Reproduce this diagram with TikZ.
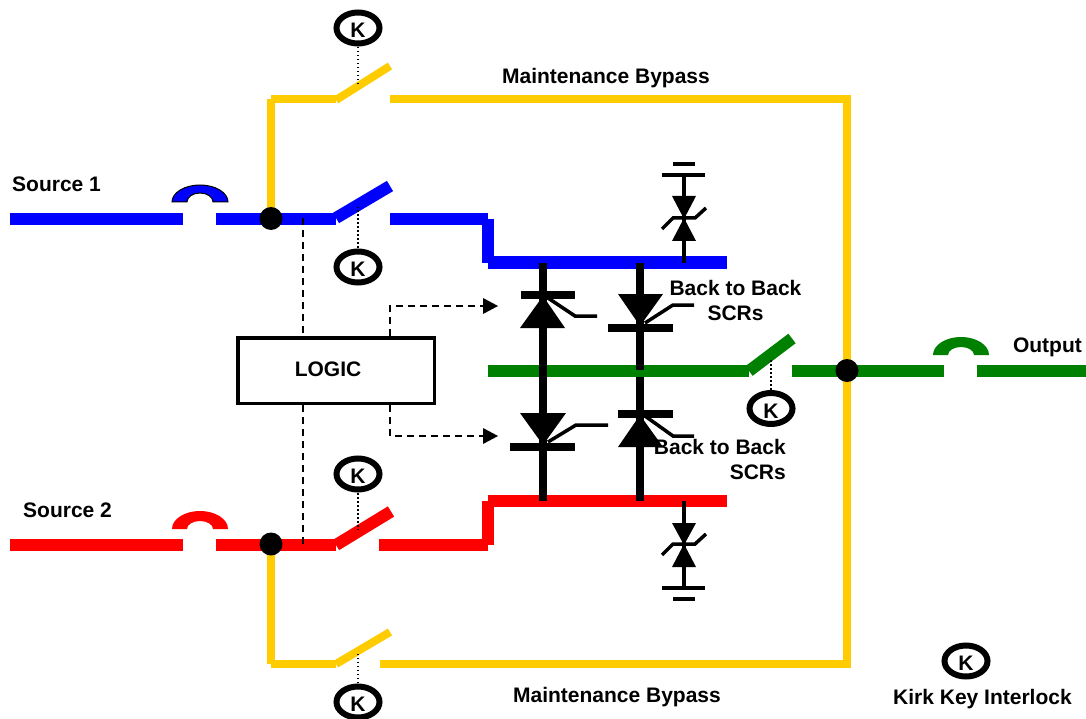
\documentclass[tikz,border=0pt]{standalone}
\usepackage{fontspec}
\setmainfont{Liberation Sans}
\definecolor{cblue}{RGB}{0,0,255}
\definecolor{cred}{RGB}{255,0,0}
\definecolor{cgreen}{RGB}{0,128,0}
\definecolor{cyel}{RGB}{255,204,0}
\usetikzlibrary{shapes.geometric}
\tikzset{
 bluew/.style={draw=cblue,line width=12pt,line cap=butt},
 redw/.style={draw=cred,line width=12pt,line cap=butt},
 greenw/.style={draw=cgreen,line width=12pt,line cap=butt},
 yelw/.style={draw=cyel,line width=8pt,line cap=butt},
 lab/.style={font=\fontsize{21}{25}\selectfont\bfseries,inner sep=0pt,align=center},
 keyk/.style={draw=black,line width=6pt,ellipse,minimum width=43pt,minimum height=31pt,inner sep=0pt,fill=white,font=\fontsize{21}{21}\selectfont\bfseries},
 dott/.style={draw=black,line width=1.5pt,dash pattern=on 1.5pt off 2.5pt},
 dashl/.style={draw=black,line width=1.8pt,dash pattern=on 7pt off 5pt},
 bar/.style={draw=black,line width=7.5pt},
 stem/.style={draw=black,line width=8pt},
 thin/.style={draw=black,line width=3.5pt},
 junc/.style={circle,fill=black,minimum size=23pt,inner sep=0pt},
 tri/.style={fill=black},
 breaker/.style={line width=1pt},
}
\newcommand{\KK}{\raisebox{-2.5pt}[\height][0pt]{K}}
\begin{document}
\begin{tikzpicture}[x=1pt,y=-1pt]
\useasboundingbox (0,0) rectangle (1086,719);
% yellow
\draw[yelw] (271,219) -- (271,99);
\draw[yelw] (271,99) -- (336,99);
\draw[yelw] (336,100) -- (390,66);
\draw[yelw] (390,99) -- (851,99);
\draw[yelw] (847,99) -- (847,668);
\draw[yelw] (851,664) -- (380,664);
\draw[yelw] (336,664) -- (390,632);
\draw[yelw] (271,545) -- (271,664);
\draw[yelw] (271,664) -- (336,664);
% blue
\draw[bluew] (10,219) -- (183,219);
\draw[bluew] (216,219) -- (336,219);
\draw[bluew] (336,218) -- (390,186);
\draw[bluew] (390,219) -- (488,219);
\draw[bluew] (488,219) -- (488,262.5);
\draw[bluew] (488,262.5) -- (727,262.5);
% red
\draw[redw] (10,545) -- (183,545);
\draw[redw] (216,545) -- (336,545);
\draw[redw] (336,545) -- (391,511.5);
\draw[redw] (379,545) -- (488,545);
\draw[redw] (488,545) -- (488,501);
\draw[redw] (488,501) -- (727,501);
% green
\draw[greenw] (488,371) -- (749,371);
\draw[greenw] (749,371) -- (792,338.5);
\draw[greenw] (792,371) -- (944,371);
\draw[greenw] (977,371) -- (1086,371);
% breakers
\draw[breaker,draw=black,fill=cblue] (172,202) arc[start angle=180,end angle=360,x radius=28,y radius=17] -- (213,202) arc[start angle=0,end angle=-180,x radius=13,y radius=9] -- cycle;
\fill[cred] (172,529) arc[start angle=180,end angle=360,x radius=28,y radius=18] -- (213,529) arc[start angle=0,end angle=-180,x radius=13,y radius=8] -- cycle;
\fill[cgreen] (933,355) arc[start angle=180,end angle=360,x radius=28,y radius=18] -- (974,355) arc[start angle=0,end angle=-180,x radius=13,y radius=8] -- cycle;
% SCR stems
\draw[stem] (543,262.5) -- (543,501);
\draw[stem] (640,262.5) -- (640,370);
\draw[stem] (640,377) -- (640,501);
% upper left SCR
\draw[bar] (520.5,295) -- (575,295);
\fill[tri] (543,296) -- (520,328) -- (565,328) -- cycle;
\draw[thin] (548,298) -- (575,316) -- (597,316);
% upper right SCR
\draw[bar] (608,328) -- (673,328);
\fill[tri] (618,294) -- (663,294) -- (640,326) -- cycle;
\draw[thin] (645,323) -- (673,305) -- (694,305);
% lower left SCR
\draw[bar] (510,447) -- (575,447);
\fill[tri] (520,413) -- (566,413) -- (543,445) -- cycle;
\draw[thin] (548,442) -- (576,425) -- (608,425);
% lower right SCR
\draw[bar] (618,414) -- (673,414);
\fill[tri] (640,415) -- (618,447) -- (663,447) -- cycle;
\draw[thin] (645,416) -- (673,436) -- (694,436);
% upper varistor
\draw[draw=black,line width=4pt] (684,262.5) -- (684,175);
\draw[draw=black,line width=4pt] (662,175) -- (705,175);
\draw[draw=black,line width=4pt] (673,164) -- (695,164);
\fill[tri] (672,196) -- (696,196) -- (684,219) -- cycle;
\fill[tri] (684,218) -- (672,241) -- (696,241) -- cycle;
\draw[thin] (662,229) -- (673,218) -- (695,218) -- (706,208);
% lower varistor
\draw[draw=black,line width=4pt] (684,501) -- (684,588);
\draw[draw=black,line width=4pt] (662,588) -- (705,588);
\draw[draw=black,line width=4pt] (673,599) -- (695,599);
\fill[tri] (672,523) -- (696,523) -- (684,545) -- cycle;
\fill[tri] (684,544) -- (672,567) -- (696,567) -- cycle;
\draw[thin] (662,555) -- (673,544) -- (695,544) -- (706,534);
% logic
\node[draw=black,line width=3.5pt,fill=white,minimum width=196.5pt,minimum height=65.5pt,inner sep=0pt] (logic) at (336,370.5) {};
\node[lab] (logictext) at (328,369) {LOGIC};
\coordinate (b1) at (303,218);
\coordinate (b2) at (303,545);
\coordinate (t1) at (390,306);
\coordinate (t2) at (390,436);
\coordinate (h1) at (484,306);
\coordinate (h2) at (484,436);
\draw[dashl] (b1) -- (b1 |- logic.north);
\draw[dashl] (b1 |- logic.south) -- (b2);
\draw[dashl] (t1 |- logic.north) -- (t1) -- (h1);
\draw[dashl] (t2 |- logic.south) -- (t2) -- (h2);
\fill[tri] (483,298) -- (498,306) -- (483,314) -- cycle;
\fill[tri] (483,428) -- (498,436) -- (483,444) -- cycle;
% junctions
\node[junc] (j1) at (271,218.5) {};
\node[junc] (j2) at (271,544) {};
\node[junc] (j3) at (847,370.5) {};
% keys
\node[keyk] (k1) at (358,28) {\KK};
\node[keyk] (k2) at (358,267) {\KK};
\node[keyk] (k3) at (358,474) {\KK};
\node[keyk] (k4) at (358,702) {\KK};
\node[keyk] (k5) at (771,408.5) {\KK};
\node[keyk] (k6) at (966,661) {\KK};
\coordinate (s1) at (358,87);
\coordinate (s2) at (358,207);
\coordinate (s3) at (358,530);
\coordinate (s4) at (358,653);
\coordinate (s5) at (771,359);
\draw[dott] (k1) ++(0,19) -- (s1);
\draw[dott] (k2) ++(0,-19) -- (s2);
\draw[dott] (k3) ++(0,19) -- (s3);
\draw[dott] (k4) ++(0,-19) -- (s4);
\draw[dott] (k5) ++(0,-19) -- (s5);
% labels
\node[lab] at (606,78) {Maintenance Bypass};
\node[lab] at (617,697) {Maintenance Bypass};
\node[lab,anchor=west] at (12,184) {Source 1};
\node[lab,anchor=west] at (23,510) {Source 2};
\node[lab,anchor=east] at (1082,347) {Output};
\node[lab] at (735.5,300) {Back to Back\\SCRs};
\node[lab,align=right,anchor=east] at (786,459.5) {Back to Back\\SCRs};
\node[lab] at (982.5,699) {Kirk Key Interlock};
\end{tikzpicture}
\end{document}
